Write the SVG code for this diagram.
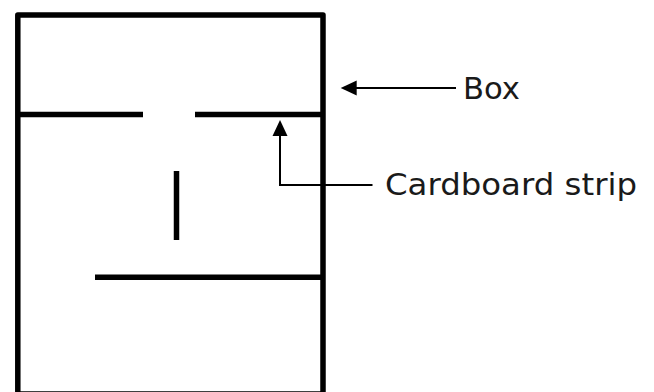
<svg xmlns="http://www.w3.org/2000/svg" width="654" height="392" viewBox="0 0 654 392">
<style>
.wall{fill:none;stroke:#000;stroke-width:5.5;stroke-linejoin:round}
.strip{fill:none;stroke:#000;stroke-width:5.5;stroke-linecap:butt}
.lead{fill:none;stroke:#000;stroke-width:2}
.lbl{font-family:"DejaVu Sans","Liberation Sans",sans-serif;font-size:30px;fill:#1a1a1a}
</style>
<defs>
<marker id="ah" viewBox="0 0 16 15" refX="1" refY="7.5" markerWidth="16" markerHeight="15" markerUnits="userSpaceOnUse" orient="auto-start-reverse">
<path d="M0,7.5 L16,0 L16,15 Z" fill="#000"/>
</marker>
</defs>
<g id="box">
<rect class="wall" x="17.8" y="15" width="305.2" height="379"/>
</g>
<g id="strips">
<line class="strip" x1="18" y1="114.5" x2="143" y2="114.5"/>
<line class="strip" x1="195" y1="114.5" x2="323" y2="114.5"/>
<line class="strip" x1="176.5" y1="171" x2="176.5" y2="240"/>
<line class="strip" x1="95" y1="277.3" x2="323" y2="277.3"/>
</g>
<g id="connectors">
<path class="lead" d="M456,88 L356,88" />
<path d="M340.7,88 L356.7,80.5 L356.7,95.5 Z" fill="#000"/>
<path class="lead" d="M372.5,185 L280,185 L280,135"/>
<path d="M280,120 L272.5,136 L287.5,136 Z" fill="#000"/>
</g>
<g id="label-box">
<text class="lbl" x="463" y="99" textLength="57" lengthAdjust="spacingAndGlyphs">Box</text>
</g>
<g id="label-strip">
<text class="lbl" x="385" y="195" textLength="252" lengthAdjust="spacingAndGlyphs">Cardboard strip</text>
</g>
</svg>
